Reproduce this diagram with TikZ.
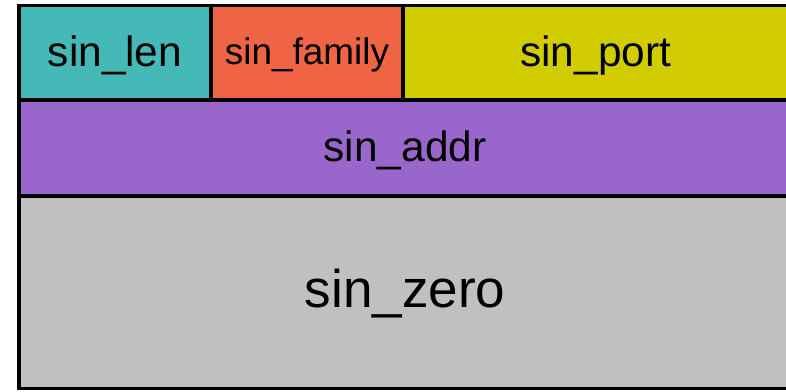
\documentclass[tikz,border=0pt]{standalone}
\usepackage{fontspec}
\setmainfont{Liberation Sans}
\definecolor{cteal}{RGB}{69,184,184}
\definecolor{corange}{RGB}{238,100,68}
\definecolor{cyellow}{RGB}{208,204,0}
\definecolor{cpurple}{RGB}{153,102,204}
\definecolor{cgray}{RGB}{192,192,192}
\tikzset{
  field/.style={draw=black, line width=2.4pt, rectangle, inner sep=0pt, outer sep=0pt, anchor=north west},
  big/.style={font=\fontsize{31.8}{36}\selectfont},
  mid/.style={font=\fontsize{27.7}{32}\selectfont},
  huge/.style={font=\fontsize{39.8}{44}\selectfont},
}
\begin{document}
\begin{tikzpicture}[x=0.75pt,y=-0.75pt]
\clip (0,0) rectangle (786,392);
\fill[white] (0,0) rectangle (786,392);
% rows: y 5.5 / 100 / 196 / 389.5 ; columns x 19 / 211 / 403 / 791
\node[field, fill=cteal, minimum width=144pt, minimum height=70.875pt] (len) at (19,5.5) {};
\node[field, fill=corange, minimum width=144pt, minimum height=70.875pt] (family) at (211,5.5) {};
\node[field, fill=cyellow, minimum width=291pt, minimum height=70.875pt] (port) at (403,5.5) {};
\node[field, fill=cpurple, minimum width=579pt, minimum height=72pt] (addr) at (19,100) {};
\node[field, fill=cgray, minimum width=579pt, minimum height=144.375pt] (zero) at (19,196) {};
\node[big] (tlen) at ([yshift=-1.8pt]len.center) {sin\_len};
\node[mid] (tfamily) at ([yshift=-1.8pt]family.center) {sin\_family};
\node[big] (tport) at ([xshift=-1pt,yshift=-1.8pt]port.center) {sin\_port};
\node[big] (taddr) at ([yshift=-2pt]addr.center) {sin\_addr};
\node[huge] (tzero) at ([yshift=-1pt]zero.center) {sin\_zero};
\end{tikzpicture}
\end{document}
